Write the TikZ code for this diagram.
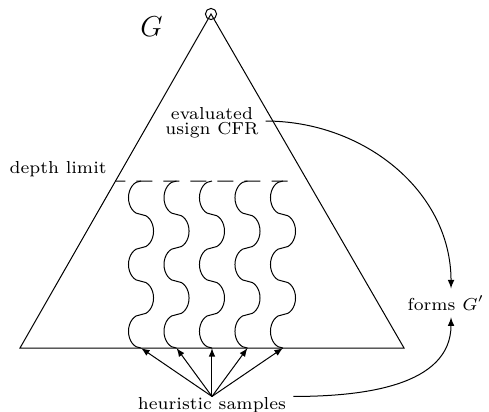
\documentclass[tikz,border=0pt]{standalone}
\usetikzlibrary{calc}
\newcommand{\lbltext}[1]{\scalebox{1.24}{\scriptsize #1}}

\begin{document}
\begin{tikzpicture}[x=1cm,y=1cm,>=latex]
  \tikzstyle{edge}=[draw=black, line width=0.5pt]
  \tikzstyle{limit}=[draw=black, line width=0.5pt, dash pattern=on 8pt off 5.5pt, dash phase=3pt]
  \tikzstyle{sample}=[draw=black, line width=0.5pt]
  \tikzstyle{label}=[align=center]

  \useasboundingbox (0,0) rectangle (8.593,7.223);

  % game tree G
  \coordinate (apex) at (3.708,6.977);
  \coordinate (bl) at (0.351,1.107);
  \coordinate (br) at (7.100,1.107);
  \draw[edge] (bl) -- (apex) -- (br) -- cycle;
  \draw[edge] (apex) circle (2.8pt);
  \node[label] (gname) at (2.662,6.748) {\Large $G$};

  % depth limit
  \coordinate (dl) at ($(apex)!0.5!(bl)$);
  \draw[limit] (dl) -- (5.202,4.042);
  \node[label, anchor=base east] (depth) at (1.998,4.177) {\lbltext{depth limit}};

  % heuristic samples below the limit
  \node[label, anchor=base, inner sep=0.5pt] (samples) at (3.725,0.02) {\lbltext{heuristic samples}};
  \foreach \i/\cx in {1/2.478,2/3.102,3/3.725,4/4.349,5/4.973} {
    \draw[sample] (\cx,4.042)
      arc[start angle=90, end angle=270, x radius=0.22, y radius=0.2935]
      arc[start angle=90, end angle=-90, x radius=0.22, y radius=0.2935]
      arc[start angle=90, end angle=270, x radius=0.22, y radius=0.2935]
      arc[start angle=90, end angle=-90, x radius=0.22, y radius=0.2935]
      arc[start angle=90, end angle=270, x radius=0.22, y radius=0.2935]
      coordinate (leaf\i);
    \draw[edge, ->] (samples.north) -- (leaf\i);
  }

  % forming G'
  \node[label] (cfr) at (3.725,5.061)
    {\lbltext{\begin{tabular}{@{}c@{}}evaluated\\[-2.1pt]usign CFR\end{tabular}}};
  \node[label, anchor=base] (forms) at (7.838,1.775) {\lbltext{forms $G'$}};
  \draw[edge, ->] ([yshift=1pt]cfr.east) to[out=0, in=90] ([xshift=2.5pt]forms.north);
  \draw[edge, ->] ([xshift=3pt]samples.north east) to[out=0, in=-90] ([xshift=2.5pt]forms.south);
\end{tikzpicture}
\end{document}
